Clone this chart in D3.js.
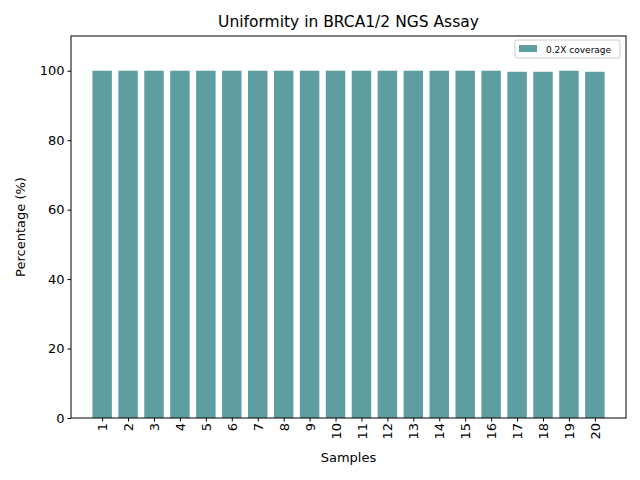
<!DOCTYPE html>
<html><head><script src="https://d3js.org/d3.v7.min.js"></script>
<style>body{margin:0}text{font-family:"DejaVu Sans",sans-serif}</style></head>
<body><svg id="c" width="640" height="480"></svg>
<script>
var samples = d3.range(1, 21).map(String);
var coverage = [100,100,100,100,100,100,100,100,100,100,100,100,100,100,100,100,99.7,99.7,100,99.7];
var yTicks = [0,20,40,60,80,100];

var m = {l:71, r:626, t:36, b:418};
var svg = d3.select('#c');
var x = d3.scaleLinear().domain([-1.2, 20.2]).range([m.l, m.r]);
var y = d3.scaleLinear().domain([0, 110]).range([m.b, m.t]);
var bw = (x(1) - x(0)) * 0.75;

svg.selectAll('rect.bar').data(coverage).enter().append('rect')
  .attr('x', (d,i) => x(i) - bw/2).attr('width', bw)
  .attr('y', d => y(d)).attr('height', d => y(0) - y(d))
  .attr('fill', '#5f9ea0');

var xa = svg.append('g').attr('transform', 'translate(0,' + m.b + ')')
  .call(d3.axisBottom(x).tickValues(d3.range(20)).tickFormat(i => samples[i]).tickSizeOuter(0).tickSize(3.5));
xa.selectAll('text').attr('transform', 'rotate(-90)').attr('text-anchor', 'end')
  .attr('x', -5).attr('y', 0).attr('dy', '0.35em').style('font-size', '13px').attr('fill', '#000');
var ya = svg.append('g').attr('transform', 'translate(' + m.l + ',0)')
  .call(d3.axisLeft(y).tickValues(yTicks).tickSizeOuter(0).tickSize(3.5));
ya.selectAll('text').style('font-size', '13px').attr('fill', '#000');
svg.selectAll('.domain').remove();
svg.append('rect').attr('x', m.l).attr('y', m.t).attr('width', m.r - m.l).attr('height', m.b - m.t)
  .attr('fill', 'none').attr('stroke', '#000').attr('stroke-width', 1);

svg.append('text').attr('x', (m.l+m.r)/2).attr('y', 27).attr('text-anchor', 'middle')
  .style('font-size', '15.5px').text('Uniformity in BRCA1/2 NGS Assay');
svg.append('text').attr('x', (m.l+m.r)/2).attr('y', 462).attr('text-anchor', 'middle')
  .style('font-size', '13px').text('Samples');
svg.append('text').attr('transform', 'translate(25,' + (m.t+m.b)/2 + ') rotate(-90)').attr('text-anchor', 'middle')
  .style('font-size', '13px').text('Percentage (%)');

var lg = svg.append('g').attr('transform', 'translate(515,40)');
lg.append('rect').attr('width', 105).attr('height', 18).attr('rx', 2)
  .attr('fill', '#fff').attr('stroke', '#ccc');
lg.append('rect').attr('x', 4).attr('y', 5).attr('width', 18).attr('height', 7).attr('fill', '#5f9ea0');
lg.append('text').attr('x', 31).attr('y', 12.5).style('font-size', '9px').text('0.2X coverage');
</script></body></html>
